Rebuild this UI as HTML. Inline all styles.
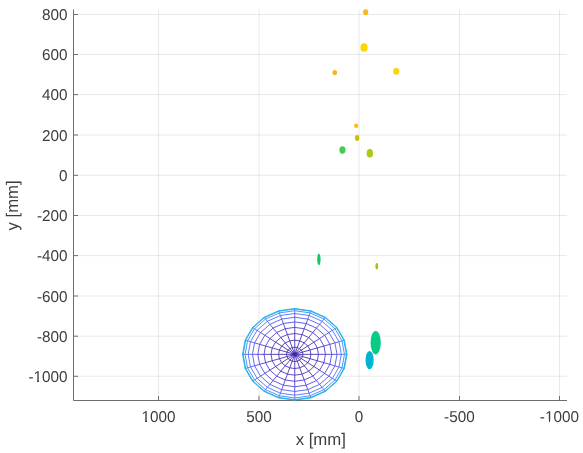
<!DOCTYPE html>
<html><head><meta charset="utf-8"><style>
html,body{margin:0;padding:0;background:#fff;}
svg{display:block;}
text{font-family:"Liberation Sans",Arial,sans-serif;fill:#3d3d3d;text-rendering:geometricPrecision;}
</style></head><body>
<svg width="583" height="453" viewBox="0 0 583 453">
<rect width="583" height="453" fill="#fff"/>
<g stroke="#262626" stroke-opacity="0.1" stroke-width="1" fill="none"><line x1="158.5" y1="9.5" x2="158.5" y2="400" /><line x1="259.0" y1="9.5" x2="259.0" y2="400" /><line x1="359.0" y1="9.5" x2="359.0" y2="400" /><line x1="459.5" y1="9.5" x2="459.5" y2="400" /><line x1="559.5" y1="9.5" x2="559.5" y2="400" /><line x1="73" y1="14.5" x2="567" y2="14.5" /><line x1="73" y1="54.5" x2="567" y2="54.5" /><line x1="73" y1="94.6" x2="567" y2="94.6" /><line x1="73" y1="135.0" x2="567" y2="135.0" /><line x1="73" y1="175.3" x2="567" y2="175.3" /><line x1="73" y1="215.5" x2="567" y2="215.5" /><line x1="73" y1="255.6" x2="567" y2="255.6" /><line x1="73" y1="296.0" x2="567" y2="296.0" /><line x1="73" y1="336.2" x2="567" y2="336.2" /><line x1="73" y1="376.3" x2="567" y2="376.3" /></g>
<g stroke="#6e6e6e" stroke-width="1" fill="none"><line x1="158.5" y1="396" x2="158.5" y2="400" /><line x1="259.0" y1="396" x2="259.0" y2="400" /><line x1="359.0" y1="396" x2="359.0" y2="400" /><line x1="459.5" y1="396" x2="459.5" y2="400" /><line x1="559.5" y1="396" x2="559.5" y2="400" /><line x1="74" y1="14.5" x2="78" y2="14.5" /><line x1="74" y1="54.5" x2="78" y2="54.5" /><line x1="74" y1="94.6" x2="78" y2="94.6" /><line x1="74" y1="135.0" x2="78" y2="135.0" /><line x1="74" y1="175.3" x2="78" y2="175.3" /><line x1="74" y1="215.5" x2="78" y2="215.5" /><line x1="74" y1="255.6" x2="78" y2="255.6" /><line x1="74" y1="296.0" x2="78" y2="296.0" /><line x1="74" y1="336.2" x2="78" y2="336.2" /><line x1="74" y1="376.3" x2="78" y2="376.3" />
<path d="M73.5 9.5V400.5H567"/></g>
<g fill="none" stroke-width="0.85" stroke-linejoin="round">
<polygon points="347.00,354.35 344.44,340.18 337.02,327.40 325.46,317.26 310.90,310.74 294.75,308.50 278.60,310.74 264.04,317.26 252.48,327.40 245.06,340.18 242.50,354.35 245.06,368.52 252.48,381.30 264.04,391.44 278.60,397.96 294.75,400.20 310.90,397.96 325.46,391.44 337.02,381.30 344.44,368.52" fill="#fff"/>
<ellipse cx="294.75" cy="354.35" rx="2.6" ry="2.1" fill="#3e26a8" fill-opacity="0.8"/>
<path d="M294.75 354.35L302.92 354.35M294.75 354.35L302.52 352.13M294.75 354.35L301.36 350.13M294.75 354.35L299.55 348.55M294.75 354.35L297.28 347.53M294.75 354.35L294.75 347.18M294.75 354.35L292.22 347.53M294.75 354.35L289.95 348.55M294.75 354.35L288.14 350.13M294.75 354.35L286.98 352.13M294.75 354.35L286.58 354.35M294.75 354.35L286.98 356.57M294.75 354.35L288.14 358.57M294.75 354.35L289.95 360.15M294.75 354.35L292.22 361.17M294.75 354.35L294.75 361.52M294.75 354.35L297.28 361.17M294.75 354.35L299.55 360.15M294.75 354.35L301.36 358.57M294.75 354.35L302.52 356.57" stroke="#3e26a8"/>
<path d="M302.92 354.35L310.90 354.35M302.52 352.13L310.11 349.97M301.36 350.13L307.81 346.02M299.55 348.55L304.24 342.89M297.28 347.53L299.74 340.88M294.75 347.18L294.75 340.18M292.22 347.53L289.76 340.88M289.95 348.55L285.26 342.89M288.14 350.13L281.69 346.02M286.98 352.13L279.39 349.97M286.58 354.35L278.60 354.35M286.98 356.57L279.39 358.73M288.14 358.57L281.69 362.68M289.95 360.15L285.26 365.81M292.22 361.17L289.76 367.82M294.75 361.52L294.75 368.52M297.28 361.17L299.74 367.82M299.55 360.15L304.24 365.81M301.36 358.57L307.81 362.68M302.52 356.57L310.11 358.73" stroke="#3e26a8"/>
<path d="M310.90 354.35L318.47 354.35M310.11 349.97L317.31 347.92M307.81 346.02L313.94 342.11M304.24 342.89L308.69 337.51M299.74 340.88L302.08 334.55M294.75 340.18L294.75 333.53M289.76 340.88L287.42 334.55M285.26 342.89L280.81 337.51M281.69 346.02L275.56 342.11M279.39 349.97L272.19 347.92M278.60 354.35L271.03 354.35M279.39 358.73L272.19 360.78M281.69 362.68L275.56 366.59M285.26 365.81L280.81 371.19M289.76 367.82L287.42 374.15M294.75 368.52L294.75 375.17M299.74 367.82L302.08 374.15M304.24 365.81L308.69 371.19M307.81 362.68L313.94 366.59M310.11 358.73L317.31 360.78" stroke="#4028b2"/>
<path d="M318.47 354.35L325.46 354.35M317.31 347.92L323.96 346.02M313.94 342.11L319.60 338.51M308.69 337.51L312.80 332.55M302.08 334.55L304.24 328.72M294.75 333.53L294.75 327.40M287.42 334.55L285.26 328.72M280.81 337.51L276.70 332.55M275.56 342.11L269.90 338.51M272.19 347.92L265.54 346.02M271.03 354.35L264.04 354.35M272.19 360.78L265.54 362.68M275.56 366.59L269.90 370.19M280.81 371.19L276.70 376.15M287.42 374.15L285.26 379.98M294.75 375.17L294.75 381.30M302.08 374.15L304.24 379.98M308.69 371.19L312.80 376.15M313.94 366.59L319.60 370.19M317.31 360.78L323.96 362.68" stroke="#442cc0"/>
<path d="M325.46 354.35L331.70 354.35M323.96 346.02L329.89 344.33M319.60 338.51L324.64 335.29M312.80 332.55L316.47 328.12M304.24 328.72L306.17 323.52M294.75 327.40L294.75 321.93M285.26 328.72L283.33 323.52M276.70 332.55L273.03 328.12M269.90 338.51L264.86 335.29M265.54 346.02L259.61 344.33M264.04 354.35L257.80 354.35M265.54 362.68L259.61 364.37M269.90 370.19L264.86 373.41M276.70 376.15L273.03 380.58M285.26 379.98L283.33 385.18M294.75 381.30L294.75 386.77M304.24 379.98L306.17 385.18M312.80 376.15L316.47 380.58M319.60 370.19L324.64 373.41M323.96 362.68L329.89 364.37" stroke="#4834d0"/>
<path d="M331.70 354.35L337.02 354.35M329.89 344.33L334.95 342.89M324.64 335.29L328.95 332.55M316.47 328.12L319.60 324.34M306.17 323.52L307.81 319.07M294.75 321.93L294.75 317.26M283.33 323.52L281.69 319.07M273.03 328.12L269.90 324.34M264.86 335.29L260.55 332.55M259.61 344.33L254.55 342.89M257.80 354.35L252.48 354.35M259.61 364.37L254.55 365.81M264.86 373.41L260.55 376.15M273.03 380.58L269.90 384.36M283.33 385.18L281.69 389.63M294.75 386.77L294.75 391.44M306.17 385.18L307.81 389.63M316.47 380.58L319.60 384.36M324.64 373.41L328.95 376.15M329.89 364.37L334.95 365.81" stroke="#4c40e0"/>
<path d="M337.02 354.35L341.31 354.35M334.95 342.89L339.03 341.73M328.95 332.55L332.41 330.34M319.60 324.34L322.11 321.30M307.81 319.07L309.14 315.50M294.75 317.26L294.75 313.50M281.69 319.07L280.36 315.50M269.90 324.34L267.39 321.30M260.55 332.55L257.09 330.34M254.55 342.89L250.47 341.73M252.48 354.35L248.19 354.35M254.55 365.81L250.47 366.97M260.55 376.15L257.09 378.36M269.90 384.36L267.39 387.40M281.69 389.63L280.36 393.20M294.75 391.44L294.75 395.20M307.81 389.63L309.14 393.20M319.60 384.36L322.11 387.40M328.95 376.15L332.41 378.36M334.95 365.81L339.03 366.97" stroke="#4c52ee"/>
<path d="M341.31 354.35L344.44 354.35M339.03 341.73L342.01 340.88M332.41 330.34L334.95 328.72M322.11 321.30L323.96 319.07M309.14 315.50L310.11 312.88M294.75 313.50L294.75 310.74M280.36 315.50L279.39 312.88M267.39 321.30L265.54 319.07M257.09 330.34L254.55 328.72M250.47 341.73L247.49 340.88M248.19 354.35L245.06 354.35M250.47 366.97L247.49 367.82M257.09 378.36L254.55 379.98M267.39 387.40L265.54 389.63M280.36 393.20L279.39 395.82M294.75 395.20L294.75 397.96M309.14 393.20L310.11 395.82M322.11 387.40L323.96 389.63M332.41 378.36L334.95 379.98M339.03 366.97L342.01 367.82" stroke="#426af8"/>
<path d="M344.44 354.35L346.36 354.35M342.01 340.88L343.83 340.36M334.95 328.72L336.50 327.73M323.96 319.07L325.08 317.71M310.11 312.88L310.70 311.28M294.75 310.74L294.75 309.06M279.39 312.88L278.80 311.28M265.54 319.07L264.42 317.71M254.55 328.72L253.00 327.73M247.49 340.88L245.67 340.36M245.06 354.35L243.14 354.35M247.49 367.82L245.67 368.34M254.55 379.98L253.00 380.97M265.54 389.63L264.42 390.99M279.39 395.82L278.80 397.42M294.75 397.96L294.75 399.64M310.11 395.82L310.70 397.42M323.96 389.63L325.08 390.99M334.95 379.98L336.50 380.97M342.01 367.82L343.83 368.34" stroke="#3084f6"/>
<path d="M346.36 354.35L347.00 354.35M343.83 340.36L344.44 340.18M336.50 327.73L337.02 327.40M325.08 317.71L325.46 317.26M310.70 311.28L310.90 310.74M294.75 309.06L294.75 308.50M278.80 311.28L278.60 310.74M264.42 317.71L264.04 317.26M253.00 327.73L252.48 327.40M245.67 340.36L245.06 340.18M243.14 354.35L242.50 354.35M245.67 368.34L245.06 368.52M253.00 380.97L252.48 381.30M264.42 390.99L264.04 391.44M278.80 397.42L278.60 397.96M294.75 399.64L294.75 400.20M310.70 397.42L310.90 397.96M325.08 390.99L325.46 391.44M336.50 380.97L337.02 381.30M343.83 368.34L344.44 368.52" stroke="#1c9cee"/>
<path d="M302.92 354.35L302.52 352.13L301.36 350.13L299.55 348.55L297.28 347.53L294.75 347.18L292.22 347.53L289.95 348.55L288.14 350.13L286.98 352.13L286.58 354.35L286.98 356.57L288.14 358.57L289.95 360.15L292.22 361.17L294.75 361.52L297.28 361.17L299.55 360.15L301.36 358.57L302.52 356.57L302.92 354.35" stroke="#3e26a8"/>
<path d="M310.90 354.35L310.11 349.97L307.81 346.02L304.24 342.89L299.74 340.88L294.75 340.18L289.76 340.88L285.26 342.89L281.69 346.02L279.39 349.97L278.60 354.35L279.39 358.73L281.69 362.68L285.26 365.81L289.76 367.82L294.75 368.52L299.74 367.82L304.24 365.81L307.81 362.68L310.11 358.73L310.90 354.35" stroke="#4028b2"/>
<path d="M318.47 354.35L317.31 347.92L313.94 342.11L308.69 337.51L302.08 334.55L294.75 333.53L287.42 334.55L280.81 337.51L275.56 342.11L272.19 347.92L271.03 354.35L272.19 360.78L275.56 366.59L280.81 371.19L287.42 374.15L294.75 375.17L302.08 374.15L308.69 371.19L313.94 366.59L317.31 360.78L318.47 354.35" stroke="#442cc0"/>
<path d="M325.46 354.35L323.96 346.02L319.60 338.51L312.80 332.55L304.24 328.72L294.75 327.40L285.26 328.72L276.70 332.55L269.90 338.51L265.54 346.02L264.04 354.35L265.54 362.68L269.90 370.19L276.70 376.15L285.26 379.98L294.75 381.30L304.24 379.98L312.80 376.15L319.60 370.19L323.96 362.68L325.46 354.35" stroke="#4834d0"/>
<path d="M331.70 354.35L329.89 344.33L324.64 335.29L316.47 328.12L306.17 323.52L294.75 321.93L283.33 323.52L273.03 328.12L264.86 335.29L259.61 344.33L257.80 354.35L259.61 364.37L264.86 373.41L273.03 380.58L283.33 385.18L294.75 386.77L306.17 385.18L316.47 380.58L324.64 373.41L329.89 364.37L331.70 354.35" stroke="#4c40e0"/>
<path d="M337.02 354.35L334.95 342.89L328.95 332.55L319.60 324.34L307.81 319.07L294.75 317.26L281.69 319.07L269.90 324.34L260.55 332.55L254.55 342.89L252.48 354.35L254.55 365.81L260.55 376.15L269.90 384.36L281.69 389.63L294.75 391.44L307.81 389.63L319.60 384.36L328.95 376.15L334.95 365.81L337.02 354.35" stroke="#4c52ee"/>
<path d="M341.31 354.35L339.03 341.73L332.41 330.34L322.11 321.30L309.14 315.50L294.75 313.50L280.36 315.50L267.39 321.30L257.09 330.34L250.47 341.73L248.19 354.35L250.47 366.97L257.09 378.36L267.39 387.40L280.36 393.20L294.75 395.20L309.14 393.20L322.11 387.40L332.41 378.36L339.03 366.97L341.31 354.35" stroke="#426af8"/>
<path d="M344.44 354.35L342.01 340.88L334.95 328.72L323.96 319.07L310.11 312.88L294.75 310.74L279.39 312.88L265.54 319.07L254.55 328.72L247.49 340.88L245.06 354.35L247.49 367.82L254.55 379.98L265.54 389.63L279.39 395.82L294.75 397.96L310.11 395.82L323.96 389.63L334.95 379.98L342.01 367.82L344.44 354.35" stroke="#3084f6"/>
<path d="M346.36 354.35L343.83 340.36L336.50 327.73L325.08 317.71L310.70 311.28L294.75 309.06L278.80 311.28L264.42 317.71L253.00 327.73L245.67 340.36L243.14 354.35L245.67 368.34L253.00 380.97L264.42 390.99L278.80 397.42L294.75 399.64L310.70 397.42L325.08 390.99L336.50 380.97L343.83 368.34L346.36 354.35" stroke="#1c9cee"/>
<path d="M347.00 354.35L344.44 340.18L337.02 327.40L325.46 317.26L310.90 310.74L294.75 308.50L278.60 310.74L264.04 317.26L252.48 327.40L245.06 340.18L242.50 354.35L245.06 368.52L252.48 381.30L264.04 391.44L278.60 397.96L294.75 400.20L310.90 397.96L325.46 391.44L337.02 381.30L344.44 368.52L347.00 354.35" stroke="#08ace4"/>
</g>
<g stroke="none">
<ellipse cx="365.70" cy="12.25" rx="2.60" ry="3.00" fill="#f8b91a"/>
<ellipse cx="364.00" cy="47.55" rx="3.60" ry="4.30" fill="#fed700"/>
<ellipse cx="334.80" cy="72.60" rx="2.30" ry="2.70" fill="#f9b41e"/>
<ellipse cx="396.20" cy="71.25" rx="3.10" ry="3.60" fill="#fed60a"/>
<ellipse cx="356.20" cy="125.80" rx="2.20" ry="2.30" fill="#fdbe1e"/>
<ellipse cx="357.10" cy="138.00" rx="2.20" ry="3.00" fill="#cdbe0a"/>
<ellipse cx="342.45" cy="150.00" rx="3.10" ry="3.70" fill="#4bc850"/>
<ellipse cx="369.80" cy="153.20" rx="3.20" ry="4.30" fill="#aac814"/>
<ellipse cx="318.90" cy="259.30" rx="1.70" ry="5.90" fill="#14c864"/>
<ellipse cx="376.80" cy="266.20" rx="1.40" ry="3.30" fill="#9ac81e"/>
<ellipse cx="369.60" cy="360.10" rx="4.10" ry="9.20" fill="#03b4d0"/>
<ellipse cx="375.70" cy="342.70" rx="5.10" ry="11.80" fill="#08cb84"/>
</g>
<g font-size="15.3px"><text transform="translate(67.5,20) scale(1,1.03)" text-anchor="end">800</text><text transform="translate(67.5,60) scale(1,1.03)" text-anchor="end">600</text><text transform="translate(67.5,100) scale(1,1.03)" text-anchor="end">400</text><text transform="translate(67.5,141) scale(1,1.03)" text-anchor="end">200</text><text transform="translate(67.5,181) scale(1,1.03)" text-anchor="end">0</text><text transform="translate(67.5,221) scale(1,1.03)" text-anchor="end">-200</text><text transform="translate(67.5,261) scale(1,1.03)" text-anchor="end">-400</text><text transform="translate(67.5,302) scale(1,1.03)" text-anchor="end">-600</text><text transform="translate(67.5,342) scale(1,1.03)" text-anchor="end">-800</text><text transform="translate(67.5,382) scale(1,1.03)" text-anchor="end">-1000</text><text transform="translate(158.40,421.7) scale(1,1.03)" text-anchor="middle">1000</text><text transform="translate(258.90,421.7) scale(1,1.03)" text-anchor="middle">500</text><text transform="translate(358.90,421.7) scale(1,1.03)" text-anchor="middle">0</text><text transform="translate(459.40,421.7) scale(1,1.03)" text-anchor="middle">-500</text><text transform="translate(559.40,421.7) scale(1,1.03)" text-anchor="middle">-1000</text></g>
<g fill="#fff"><rect x="34" y="380" width="3" height="2"/><rect x="39" y="380" width="3" height="2"/><rect x="142" y="420" width="3" height="2"/><rect x="147" y="420" width="3" height="2"/><rect x="546" y="420" width="3" height="2"/><rect x="550" y="420" width="3" height="2"/></g>
<text x="320.8" y="445" text-anchor="middle" font-size="16.8px">x [mm]</text>
<text transform="translate(18.1,205.4) rotate(-90)" text-anchor="middle" font-size="16.8px">y [mm]</text>
</svg>
</body></html>
